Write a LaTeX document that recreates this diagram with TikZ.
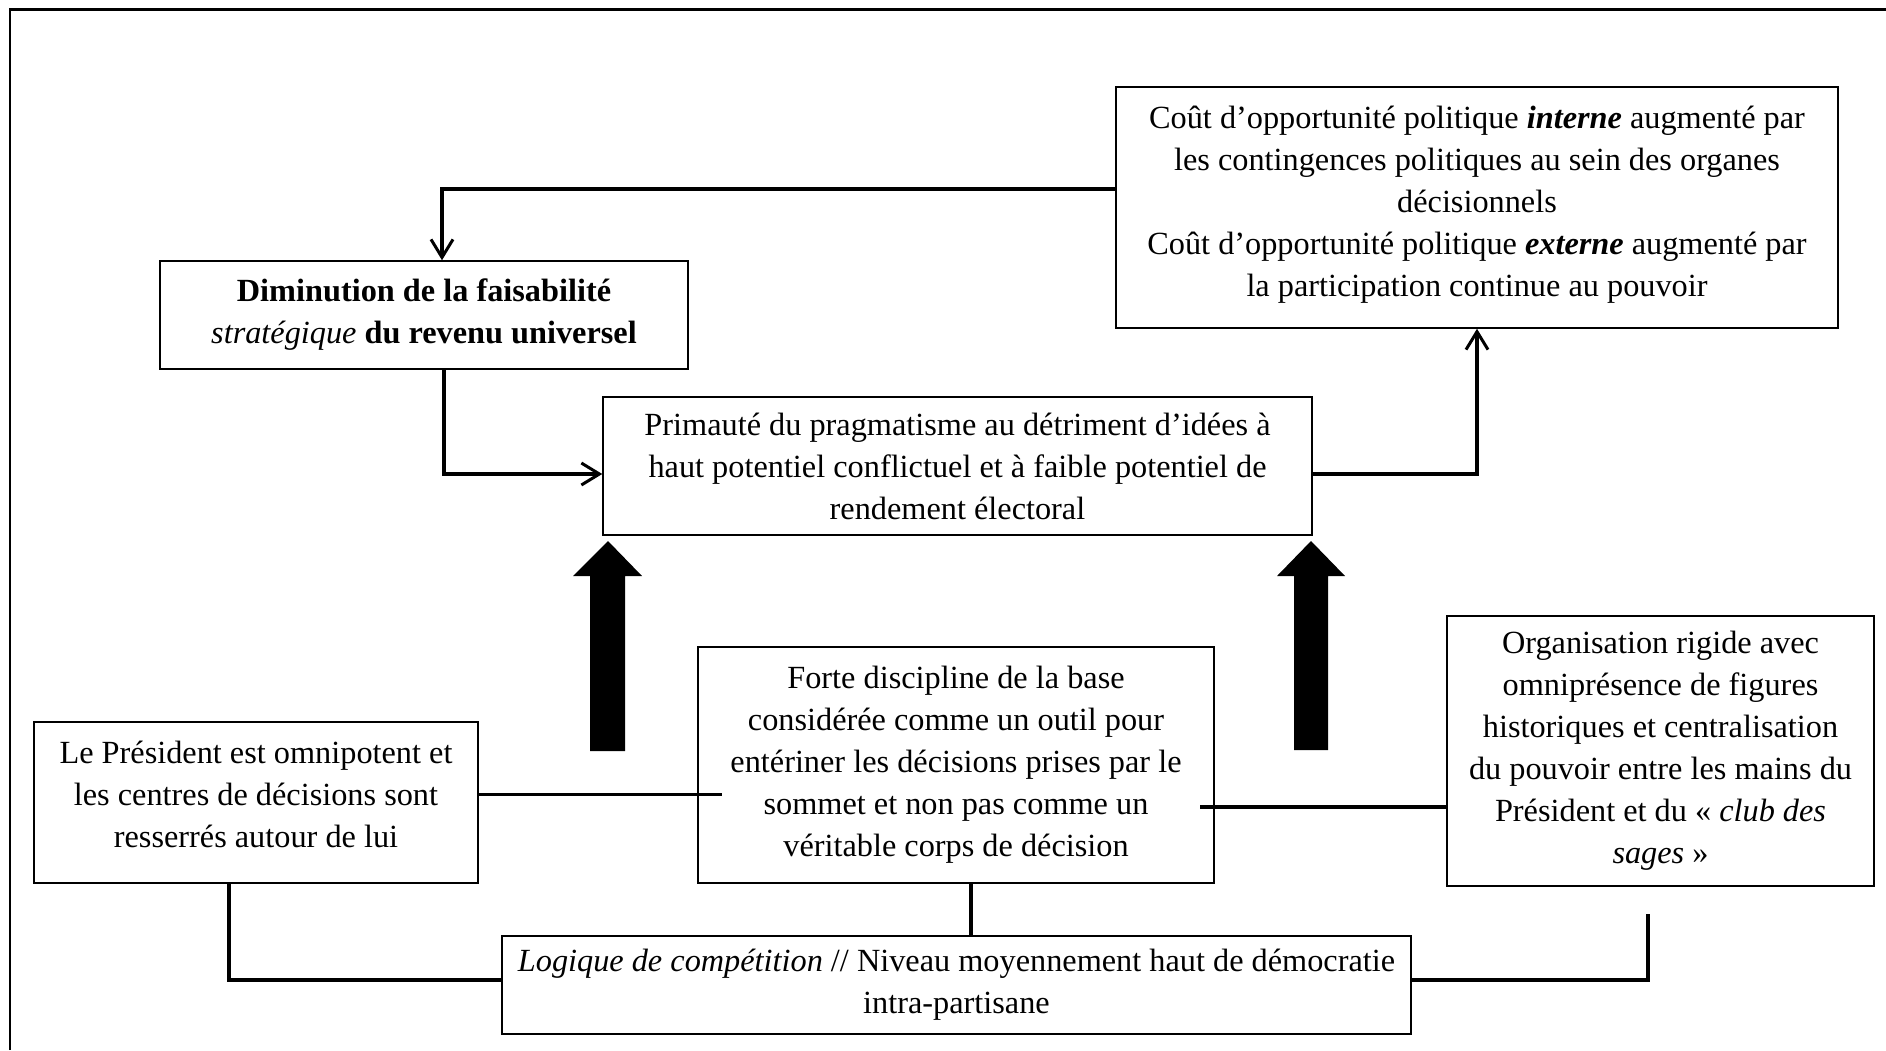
\documentclass[tikz,border=0pt]{standalone}
\usepackage{fontspec}
\setmainfont{Liberation Serif}
\usetikzlibrary{arrows.meta}
\tikzset{
  box/.style={draw=black, line width=1.5pt, inner sep=0pt, align=center, rectangle,
    font=\fontsize{32.3pt}{42pt}\selectfont},
  conn/.style={line width=3.1pt},
  arr/.style={conn, -{Straight Barb[length=18pt,width=22pt,line width=3pt]}},
  bigarrow/.style={fill=black, draw=none},
  frame/.style={line width=2.8pt},
}
\begin{document}
\begin{tikzpicture}[x=1pt,y=-1pt]
\useasboundingbox (0,0) rectangle (1886,1050);
\draw[frame] (10,1050) -- (10,9.3) -- (1886,9.3);

\node[box, minimum width=528pt, minimum height=108pt] (A) at (424,315)
  {{\bfseries Diminution de la faisabilité}\\ \textit{stratégique} {\bfseries du revenu universel}};
\node[box, minimum width=722pt, minimum height=241pt] (B) at (1477,207.5)
  {Coût d’opportunité politique \textbf{\textit{interne}} augmenté par\\
   les contingences politiques au sein des organes\\
   décisionnels\\
   Coût d’opportunité politique \textbf{\textit{externe}} augmenté par\\
   la participation continue au pouvoir\rule[-12pt]{0pt}{12pt}};
\node[box, minimum width=709pt, minimum height=138pt] (C) at (957.5,466)
  {Primauté du pragmatisme au détriment d’idées à\\
   haut potentiel conflictuel et à faible potentiel de\\
   rendement électoral};
\node[box, minimum width=516pt, minimum height=236pt] (D) at (956,765)
  {Forte discipline de la base\\
   considérée comme un outil pour\\
   entériner les décisions prises par le\\
   sommet et non pas comme un\\
   véritable corps de décision};
\node[box, minimum width=444pt, minimum height=161pt] (E) at (256,802.5)
  {Le Président est omnipotent et\\
   les centres de décisions sont\\
   resserrés autour de lui\rule[-16pt]{0pt}{16pt}};
\node[box, minimum width=427pt, minimum height=270pt] (F) at (1660.5,751)
  {Organisation rigide avec\\
   omniprésence de figures\\
   historiques et centralisation\\
   du pouvoir entre les mains du\\
   Président et du «~\textit{club des}\\
   \textit{sages}~»};
\node[box, minimum width=909pt, minimum height=98pt] (G) at (956.5,985)
  {\textit{Logique de compétition} // Niveau moyennement haut de démocratie\\
   intra-partisane};

% thin arrows
\coordinate (c1) at (442,189);
\draw[arr] (B.west |- c1) -- (c1) -- (A.north -| c1);
\coordinate (c2) at (444,474);
\draw[arr] (A.south -| c2) -- (c2) -- (C.west |- c2);
\coordinate (c3) at (1477,474);
\draw[arr] (C.east |- c3) -- (c3) -- (B.south -| c3);

% big block arrows
\fill[bigarrow] (608,541) -- (642,576) -- (625,576) -- (625,751) -- (590,751) -- (590,576) -- (573,576) -- cycle;
\fill[bigarrow] (1311,541) -- (1345,576) -- (1328,576) -- (1328,750) -- (1294,750) -- (1294,576) -- (1277,576) -- cycle;

% lower connectors
\coordinate (e1) at (722,794.5);
\draw[conn] (E.east |- e1) -- (e1);
\coordinate (d1) at (1200,807);
\draw[conn] (d1) -- (F.west |- d1);
\coordinate (e2) at (229,980);
\draw[conn] (E.south -| e2) -- (e2) -- (G.west |- e2);
\coordinate (d2) at (971,0);
\draw[conn] (D.south -| d2) -- (G.north -| d2);
\coordinate (g1) at (1648,980);
\coordinate (g2) at (1648,914);
\draw[conn] (G.east |- g1) -- (g1) -- (g2);
\end{tikzpicture}
\end{document}
